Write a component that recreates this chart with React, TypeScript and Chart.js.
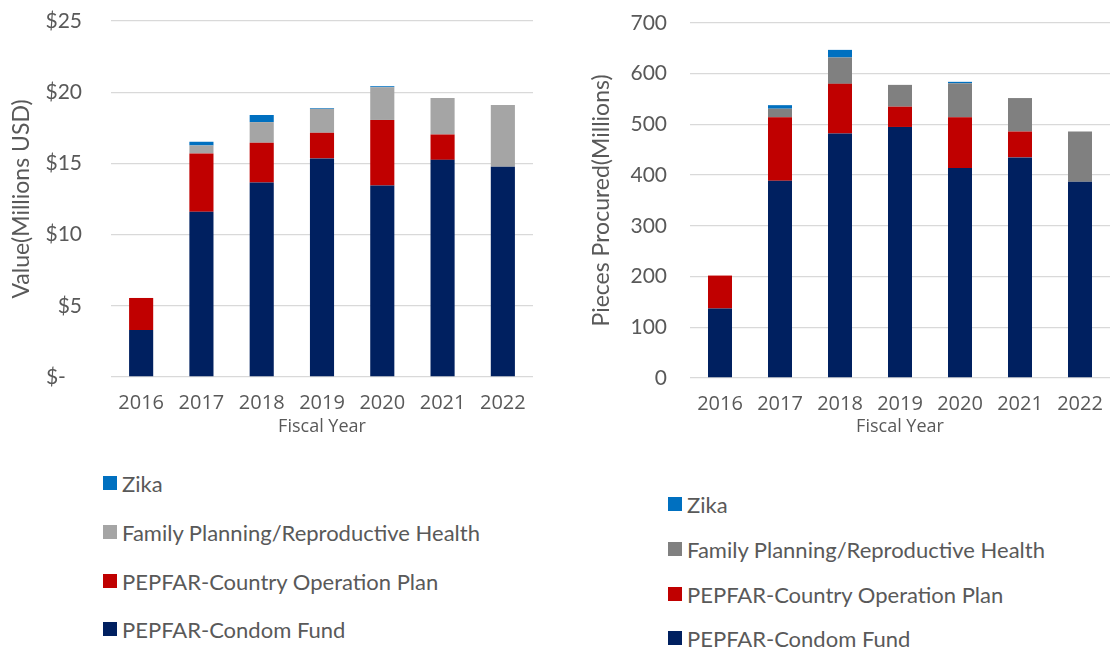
import React, { useEffect, useRef } from "react";
import { Chart, registerables } from "chart.js";

Chart.register(...registerables);

// ---- data ----
const years = ["2016", "2017", "2018", "2019", "2020", "2021", "2022"];

const seriesNames = [
  "PEPFAR-Condom Fund",
  "PEPFAR-Country Operation Plan",
  "Family Planning/Reproductive Health",
  "Zika",
];

// Left chart: Value (Millions USD)
const valueCondomFund = [3.3, 11.6, 13.65, 15.35, 13.45, 15.25, 14.77];
const valueCOP = [2.25, 4.1, 2.8, 1.8, 4.6, 1.78, 0];
const valueFPRH = [0, 0.56, 1.45, 1.68, 2.3, 2.57, 4.33];
const valueZika = [0, 0.26, 0.5, 0.05, 0.07, 0, 0];

// Right chart: Pieces Procured (Millions)
const piecesCondomFund = [137, 389, 482, 495, 414, 435, 387];
const piecesCOP = [65, 125, 98, 40, 100, 51, 0];
const piecesFPRH = [0, 17, 52, 43, 67, 66, 99];
const piecesZika = [0, 7, 15, 0, 3, 0, 0];

const valueTickLabels = ["$-   ", "$5", "$10", "$15", "$20", "$25"];
const piecesTickLabels = ["0", "100", "200", "300", "400", "500", "600", "700"];

const leftColors = ["#002060", "#C00000", "#A5A5A5", "#0070C0"];
const rightColors = ["#002060", "#C00000", "#808080", "#0070C0"];

const TEXT = "#595959";
const GRID = "#D9D9D9";
const FONT = "Lato, 'Open Sans', sans-serif";
const FONT_X = "'Open Sans', Lato, sans-serif";

type PanelProps = {
  left: number;
  width: number;
  height: number;
  series: number[][];
  colors: string[];
  yMax: number;
  step: number;
  tickLabels: string[];
  yTitle: string;
  axisWidth: number;
  tickPad: number;
  titlePad: number;
  padTop: number;
  padRight: number;
  plotBottom: number;
};

function BarPanel(p: PanelProps) {
  const ref = useRef<HTMLCanvasElement | null>(null);
  useEffect(() => {
    if (!ref.current) return;
    const chart = new Chart(ref.current, {
      type: "bar",
      data: {
        labels: years,
        datasets: p.series.map((d, i) => ({
          label: seriesNames[i],
          data: d,
          backgroundColor: p.colors[i],
          borderWidth: 0,
          categoryPercentage: 1,
          barPercentage: 0.4,
        })),
      },
      options: {
        responsive: false,
        animation: false,
        layout: { padding: { top: p.padTop, right: p.padRight, left: 0, bottom: 0 } },
        plugins: { legend: { display: false }, tooltip: { enabled: false } },
        scales: {
          x: {
            stacked: true,
            grid: { display: false, drawTicks: false },
            border: { display: false },
            ticks: {
              color: TEXT,
              font: { family: FONT_X, size: 20 },
              padding: 14,
              maxRotation: 0,
            },
            title: {
              display: true,
              text: "Fiscal Year",
              color: TEXT,
              font: { family: FONT_X, size: 18 },
              padding: { top: 0, bottom: 12 },
            },
            afterFit: (s: any) => {
              s.height = p.height - p.plotBottom;
              s.paddingLeft = 0;
              s.paddingRight = 0;
            },
          },
          y: {
            stacked: true,
            min: 0,
            max: p.yMax,
            grid: { color: GRID, lineWidth: 1.3, drawTicks: false },
            border: { display: false },
            ticks: {
              stepSize: p.step,
              color: TEXT,
              font: { family: FONT, size: 21 },
              padding: p.tickPad,
              callback: (_v: any, i: number) => p.tickLabels[i],
            },
            title: {
              display: true,
              text: p.yTitle,
              color: TEXT,
              font: { family: FONT, size: 23 },
              padding: { top: p.titlePad, bottom: 0 },
            },
            afterFit: (s: any) => {
              s.width = p.axisWidth;
              s.paddingTop = 12;
              s.paddingBottom = 12;
            },
          },
        },
      },
    } as any);
    return () => chart.destroy();
  }, []);
  return (
    <canvas
      ref={ref}
      width={p.width}
      height={p.height}
      style={{ position: "absolute", left: p.left, top: 0, width: p.width, height: p.height }}
    />
  );
}

function Legend({ left, centers, colors }: { left: number; centers: number[]; colors: string[] }) {
  const order = [3, 2, 1, 0];
  return (
    <>
      {order.map((si, row) => (
        <div
          key={si}
          style={{
            position: "absolute",
            left,
            top: centers[row] - 15,
            height: 30,
            display: "flex",
            alignItems: "center",
            fontFamily: FONT,
            fontSize: 22,
            color: TEXT,
            whiteSpace: "nowrap",
          }}
        >
          <span
            style={{ display: "inline-block", width: 14, height: 14, background: colors[si], marginRight: 5 }}
          />
          <span>{seriesNames[si]}</span>
        </div>
      ))}
    </>
  );
}

export default function App() {
  useEffect(() => {
    document.body.style.margin = "0";
    document.body.style.background = "#ffffff";
  }, []);
  return (
    <div style={{ position: "relative", width: 1110, height: 648, overflow: "hidden", background: "#fff" }}>
      <BarPanel
        left={0}
        width={540}
        height={450}
        series={[valueCondomFund, valueCOP, valueFPRH, valueZika]}
        colors={leftColors}
        yMax={25}
        step={5}
        tickLabels={valueTickLabels}
        yTitle="Value(Millions USD)"
        axisWidth={111}
        tickPad={29}
        titlePad={8}
        padTop={21}
        padRight={7}
        plotBottom={377}
      />
      <BarPanel
        left={560}
        width={550}
        height={450}
        series={[piecesCondomFund, piecesCOP, piecesFPRH, piecesZika]}
        colors={rightColors}
        yMax={700}
        step={100}
        tickLabels={piecesTickLabels}
        yTitle="Pieces Procured(Millions)"
        axisWidth={130}
        tickPad={23}
        titlePad={28}
        padTop={23}
        padRight={0}
        plotBottom={378}
      />
      <Legend left={103} centers={[483, 532, 581, 629]} colors={leftColors} />
      <Legend left={668} centers={[504, 549, 594, 638]} colors={rightColors} />
    </div>
  );
}
